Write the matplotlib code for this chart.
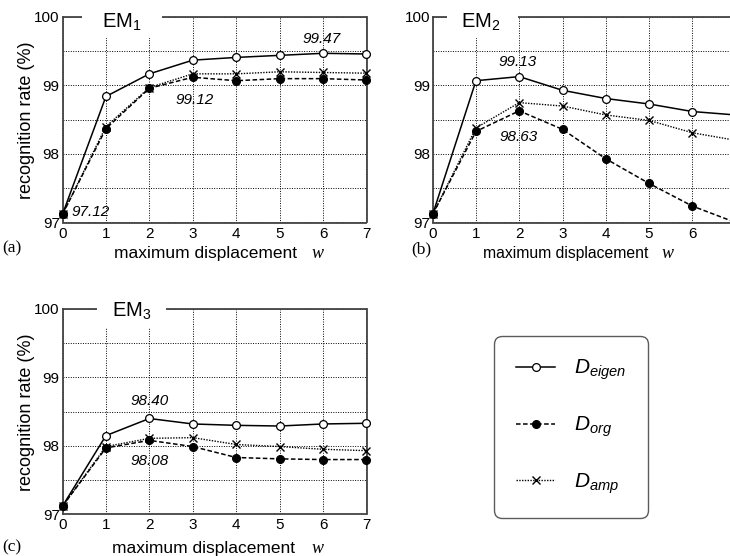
import numpy as np
import matplotlib
matplotlib.use("Agg")
import matplotlib.pyplot as plt

plt.rcParams['font.family'] = ['Liberation Sans', 'DejaVu Sans']
plt.rcParams['mathtext.fontset'] = 'custom'
plt.rcParams['mathtext.rm'] = 'Liberation Sans'
plt.rcParams['mathtext.it'] = 'Liberation Sans:italic'
plt.rcParams['mathtext.bf'] = 'Liberation Sans:bold'

# ---------------------------------------------------------
# data (recognition rate %)
# ---------------------------------------------------------
w = [0, 1, 2, 3, 4, 5, 6, 7]

em1_eigen = [97.12, 98.84, 99.17, 99.37, 99.41, 99.44, 99.47, 99.46]
em1_org = [97.12, 98.37, 98.96, 99.12, 99.07, 99.10, 99.10, 99.08]
em1_amp = [97.12, 98.40, 98.97, 99.17, 99.17, 99.20, 99.19, 99.18]

em2_eigen = [97.12, 99.07, 99.13, 98.93, 98.81, 98.73, 98.62, 98.57]
em2_org = [97.12, 98.33, 98.63, 98.36, 97.93, 97.57, 97.24, 97.00]
em2_amp = [97.12, 98.38, 98.75, 98.70, 98.57, 98.49, 98.31, 98.20]

em3_eigen = [97.12, 98.15, 98.40, 98.32, 98.30, 98.29, 98.32, 98.33]
em3_org = [97.12, 97.97, 98.08, 97.99, 97.83, 97.81, 97.80, 97.80]
em3_amp = [97.12, 97.99, 98.11, 98.12, 98.02, 97.99, 97.95, 97.93]

series_names = [r'$D_{eigen}$', r'$D_{org}$', r'$D_{amp}$']
yticks = [97, 97.5, 98, 98.5, 99, 99.5, 100]
ytick_labels = ['97', '', '98', '', '99', '', '100']

styles = [
    dict(color='black', lw=1.1, ls='-', marker='o', ms=5.6, mfc='white', mec='black', mew=0.9),
    dict(color='black', lw=1.1, ls=(0, (3, 1.6)), marker='o', ms=5.6, mfc='black', mec='black', mew=0.9),
    dict(color='black', lw=1.0, ls=(0, (1, 1)), marker='x', ms=6, mec='black', mew=1.0),
]

W, H = 730, 556
fig = plt.figure(figsize=(W / 100, H / 100), dpi=100)


def px_axes(left, top, right, bottom):
    return fig.add_axes([left / W, 1 - bottom / H, (right - left) / W, (bottom - top) / H])


def setup(ax, xmax, tx, gap, gap_bottom, title_y, sub):
    ax.set_xlim(0, xmax)
    ax.set_ylim(97, 100)
    ax.set_xticks([t for t in w if t <= xmax])
    ax.set_yticks(yticks)
    ax.set_yticklabels(ytick_labels)
    ax.tick_params(length=0, labelsize=11, pad=3)
    ax.tick_params(axis='y', pad=2)
    ax.grid(True, color='black', lw=0.7, ls=(0, (1, 1.5)))
    for s in ax.spines.values():
        s.set_color('#444444')
        s.set_linewidth(1.3)
    if xmax < 7:
        ax.spines['right'].set_visible(False)
    # white gap in the top frame for the panel title
    tr = matplotlib.transforms.blended_transform_factory(ax.transData, ax.transAxes)
    ax.add_patch(plt.Rectangle((gap[0], gap_bottom), gap[1] - gap[0], 1.05 - gap_bottom,
                               transform=tr, facecolor='white', edgecolor='none',
                               clip_on=False, zorder=2.6))
    ax.text(tx, title_y, r'$\mathrm{EM}_{%s}$' % sub, transform=tr, ha='center',
            va='baseline', fontsize=14.5, zorder=4)


def draw(ax, eig, org, amp):
    lines = []
    for vals, st in zip([eig, org, amp], styles):
        ln, = ax.plot(w, vals, clip_on=False, zorder=3, **st)
        lines.append(ln)
    return lines


def note(ax, x, y, dx, dy):
    ax.annotate('%.2f' % y, xy=(x, y), xytext=(dx, dy), textcoords='offset points',
                ha='center', va='center', fontsize=11, style='italic', zorder=5)


# (a) EM1
ax1 = px_axes(62.5, 17, 366.5, 222.5)
setup(ax1, 7, 1.37, (0.45, 2.30), 0.898, 0.946, '1')
draw(ax1, em1_eigen, em1_org, em1_amp)
note(ax1, w[0], em1_eigen[0], 20.5, 1.5)
note(ax1, w[3], em1_org[3], 1, -16.3)
note(ax1, w[6], em1_eigen[6], -0.7, 10)

# (b) EM2
ax2 = px_axes(432.7, 17, 730, 222.5)
setup(ax2, 6.87, 1.1, (0.33, 1.97), 0.898, 0.946, '2')
draw(ax2, em2_eigen, em2_org, em2_amp)
note(ax2, w[2], em2_eigen[2], -1.5, 10.3)
note(ax2, w[2], em2_org[2], -0.5, -18.6)

# (c) EM3
ax3 = px_axes(62.5, 309, 366.5, 514.3)
setup(ax3, 7, 1.6, (0.80, 2.39), 0.907, 0.962, '3')
lines = draw(ax3, em3_eigen, em3_org, em3_amp)
note(ax3, w[2], em3_eigen[2], 0, 12.5)
note(ax3, w[2], em3_org[2], 0.4, -14.9)


def ftext(x, y, s, **kw):
    return fig.text(x / W, 1 - y / H, s, **kw)


# axis labels
for cx, base, wx, fs in [(205, 258, 312, 12.5), (566, 258, 662, 11.3), (203, 553, 312, 12.5)]:
    ftext(cx, base, 'maximum displacement', ha='center', va='baseline', fontsize=fs)
    ftext(wx, base, 'w', ha='left', va='baseline', fontsize=13,
          family='Liberation Serif', style='italic')
ftext(27, 120, 'recognition rate (%)', rotation=90, ha='center', va='center', fontsize=13)
ftext(27, 412, 'recognition rate (%)', rotation=90, ha='center', va='center', fontsize=13)

# panel letters
for x, y, s in [(2, 248, '(a)'), (411, 249, '(b)'), (2, 547, '(c)')]:
    ftext(x, y, s, ha='left', va='center', fontsize=12.5, family='Liberation Serif')

# legend
leg = fig.legend(lines, series_names, loc='upper left',
                 bbox_to_anchor=(494 / W, 1 - 336 / H), borderaxespad=0,
                 fontsize=15, handlelength=1.9, handletextpad=0.9, labelspacing=1.55,
                 borderpad=1.05, numpoints=1, fancybox=True, frameon=True)
leg.get_frame().set_edgecolor('#333333')
leg.get_frame().set_linewidth(1.0)
leg.get_frame().set_boxstyle('round,pad=0,rounding_size=0.4')

fig.savefig('out.png', dpi=100)
